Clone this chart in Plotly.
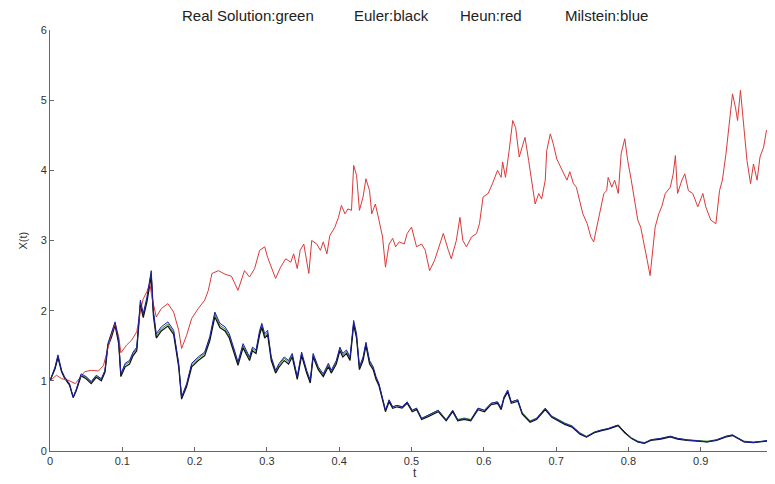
import plotly.graph_objects as go

# ---------------- data ----------------
t_sde = [0.000, 0.007, 0.011, 0.016, 0.020, 0.027, 0.032, 0.036, 0.043, 0.050,
         0.057, 0.064, 0.071, 0.076, 0.080, 0.085, 0.090, 0.095, 0.098, 0.104,
         0.110, 0.115, 0.120, 0.125, 0.129, 0.134, 0.140, 0.143, 0.147, 0.154,
         0.163, 0.171, 0.178, 0.182, 0.189, 0.196, 0.205, 0.214, 0.221, 0.228,
         0.235, 0.242, 0.248, 0.255, 0.260, 0.267, 0.271, 0.276, 0.280, 0.285,
         0.290, 0.293, 0.297, 0.301, 0.306, 0.312, 0.317, 0.324, 0.330, 0.335,
         0.342, 0.348, 0.355, 0.360, 0.364, 0.371, 0.378, 0.385, 0.389, 0.396,
         0.401, 0.405, 0.410, 0.415, 0.420, 0.424, 0.428, 0.433, 0.437, 0.442,
         0.447, 0.451, 0.455, 0.460, 0.464, 0.469, 0.474, 0.480, 0.487, 0.494,
         0.501, 0.507, 0.514, 0.523, 0.537, 0.548, 0.557, 0.564, 0.573, 0.582,
         0.592, 0.601, 0.610, 0.619, 0.624, 0.628, 0.633, 0.638, 0.647, 0.653,
         0.664, 0.673, 0.685, 0.694, 0.703, 0.712, 0.722, 0.733, 0.742, 0.753,
         0.763, 0.772, 0.780, 0.786, 0.795, 0.804, 0.813, 0.822, 0.831, 0.845,
         0.858, 0.868, 0.881, 0.895, 0.909, 0.922, 0.935, 0.944, 0.951, 0.960,
         0.973, 0.987, 1.000]

milstein = [1.00, 1.20, 1.37, 1.15, 1.06, 0.96, 0.77, 0.87, 1.10, 1.06,
            0.99, 1.08, 1.03, 1.15, 1.53, 1.67, 1.84, 1.58, 1.10, 1.25,
            1.29, 1.41, 1.48, 2.15, 1.96, 2.19, 2.57, 2.00, 1.67, 1.77,
            1.84, 1.72, 1.25, 0.77, 0.96, 1.25, 1.34, 1.41, 1.63, 1.98,
            1.82, 1.77, 1.67, 1.44, 1.27, 1.53, 1.44, 1.34, 1.48, 1.44,
            1.72, 1.82, 1.67, 1.72, 1.34, 1.15, 1.25, 1.34, 1.29, 1.39,
            1.06, 1.41, 1.15, 1.01, 1.39, 1.20, 1.10, 1.25, 1.15, 1.29,
            1.48, 1.39, 1.44, 1.34, 1.86, 1.67, 1.20, 1.34, 1.55, 1.29,
            1.20, 1.06, 0.96, 0.77, 0.58, 0.73, 0.63, 0.65, 0.63, 0.70,
            0.58, 0.61, 0.46, 0.51, 0.58, 0.44, 0.58, 0.44, 0.46, 0.44,
            0.61, 0.58, 0.68, 0.70, 0.61, 0.77, 0.87, 0.70, 0.73, 0.54,
            0.42, 0.46, 0.61, 0.49, 0.44, 0.39, 0.35, 0.25, 0.20, 0.27,
            0.30, 0.32, 0.35, 0.37, 0.27, 0.18, 0.13, 0.11, 0.16, 0.18,
            0.21, 0.18, 0.16, 0.15, 0.13, 0.16, 0.21, 0.23, 0.19, 0.13,
            0.12, 0.14, 0.16]

euler = [1.00, 1.17, 1.33, 1.13, 1.04, 0.94, 0.76, 0.85, 1.07, 1.03,
         0.96, 1.05, 1.00, 1.12, 1.49, 1.62, 1.79, 1.53, 1.06, 1.20,
         1.24, 1.36, 1.43, 2.08, 1.90, 2.12, 2.49, 1.93, 1.61, 1.71,
         1.78, 1.66, 1.20, 0.74, 0.92, 1.20, 1.29, 1.36, 1.57, 1.91,
         1.76, 1.71, 1.61, 1.39, 1.22, 1.47, 1.39, 1.29, 1.43, 1.39,
         1.66, 1.76, 1.61, 1.66, 1.29, 1.11, 1.20, 1.29, 1.24, 1.34,
         1.02, 1.36, 1.11, 0.97, 1.34, 1.16, 1.06, 1.20, 1.11, 1.24,
         1.43, 1.34, 1.39, 1.29, 1.80, 1.61, 1.16, 1.29, 1.50, 1.24,
         1.16, 1.02, 0.93, 0.74, 0.56, 0.70, 0.61, 0.63, 0.61, 0.68,
         0.56, 0.59, 0.45, 0.49, 0.56, 0.43, 0.56, 0.43, 0.45, 0.43,
         0.59, 0.56, 0.66, 0.68, 0.59, 0.75, 0.84, 0.68, 0.71, 0.53,
         0.41, 0.45, 0.59, 0.48, 0.43, 0.38, 0.34, 0.24, 0.20, 0.26,
         0.29, 0.31, 0.34, 0.36, 0.26, 0.18, 0.13, 0.11, 0.15, 0.17,
         0.20, 0.17, 0.15, 0.14, 0.13, 0.15, 0.20, 0.22, 0.18, 0.13,
         0.12, 0.13, 0.15]

real = [1.00, 1.18, 1.35, 1.14, 1.05, 0.95, 0.77, 0.86, 1.08, 1.05,
        0.98, 1.07, 1.02, 1.14, 1.51, 1.65, 1.82, 1.56, 1.08, 1.23,
        1.27, 1.39, 1.46, 2.12, 1.93, 2.16, 2.53, 1.97, 1.64, 1.74,
        1.81, 1.69, 1.23, 0.76, 0.94, 1.23, 1.32, 1.39, 1.60, 1.95,
        1.79, 1.74, 1.64, 1.42, 1.25, 1.50, 1.42, 1.32, 1.46, 1.42,
        1.69, 1.79, 1.64, 1.69, 1.32, 1.13, 1.23, 1.32, 1.27, 1.37,
        1.04, 1.39, 1.13, 0.99, 1.37, 1.18, 1.08, 1.23, 1.13, 1.27,
        1.46, 1.37, 1.42, 1.32, 1.83, 1.64, 1.18, 1.32, 1.53, 1.27,
        1.18, 1.04, 0.95, 0.76, 0.58, 0.72, 0.63, 0.65, 0.63, 0.70,
        0.58, 0.61, 0.47, 0.51, 0.58, 0.45, 0.58, 0.45, 0.47, 0.45,
        0.61, 0.58, 0.68, 0.70, 0.61, 0.77, 0.86, 0.70, 0.73, 0.55,
        0.43, 0.47, 0.61, 0.50, 0.45, 0.40, 0.36, 0.26, 0.21, 0.27,
        0.30, 0.32, 0.35, 0.37, 0.27, 0.19, 0.14, 0.12, 0.16, 0.18,
        0.21, 0.18, 0.16, 0.15, 0.14, 0.16, 0.21, 0.23, 0.19, 0.14,
        0.13, 0.14, 0.16]

t_heun = [0.000, 0.009, 0.016, 0.025, 0.035, 0.039, 0.048, 0.057, 0.067, 0.074,
          0.080, 0.085, 0.090, 0.095, 0.098, 0.106, 0.113, 0.120, 0.125, 0.129,
          0.134, 0.138, 0.141, 0.147, 0.154, 0.163, 0.171, 0.178, 0.182, 0.189,
          0.196, 0.205, 0.214, 0.219, 0.224, 0.233, 0.242, 0.251, 0.260, 0.265,
          0.269, 0.276, 0.283, 0.290, 0.297, 0.301, 0.308, 0.312, 0.319, 0.326,
          0.333, 0.337, 0.342, 0.346, 0.351, 0.355, 0.358, 0.362, 0.369, 0.374,
          0.378, 0.383, 0.387, 0.394, 0.399, 0.403, 0.408, 0.412, 0.417, 0.420,
          0.424, 0.428, 0.433, 0.437, 0.442, 0.445, 0.450, 0.455, 0.460, 0.464,
          0.469, 0.474, 0.478, 0.483, 0.490, 0.494, 0.500, 0.507, 0.514, 0.519,
          0.525, 0.532, 0.539, 0.544, 0.551, 0.555, 0.562, 0.567, 0.571, 0.576,
          0.583, 0.590, 0.594, 0.599, 0.606, 0.612, 0.619, 0.624, 0.626, 0.630,
          0.635, 0.640, 0.644, 0.649, 0.653, 0.657, 0.662, 0.667, 0.671, 0.676,
          0.680, 0.685, 0.687, 0.692, 0.696, 0.701, 0.708, 0.715, 0.719, 0.724,
          0.728, 0.733, 0.737, 0.743, 0.748, 0.752, 0.757, 0.761, 0.766, 0.770,
          0.772, 0.777, 0.781, 0.786, 0.790, 0.795, 0.799, 0.804, 0.808, 0.813,
          0.817, 0.822, 0.826, 0.830, 0.833, 0.837, 0.842, 0.846, 0.851, 0.858,
          0.862, 0.865, 0.868, 0.874, 0.878, 0.883, 0.889, 0.896, 0.903, 0.907,
          0.914, 0.921, 0.926, 0.930, 0.935, 0.939, 0.944, 0.948, 0.951, 0.955,
          0.960, 0.964, 0.969, 0.973, 0.978, 0.982, 0.987, 0.991, 0.998]

heun = [1.00, 1.08, 1.03, 1.01, 0.96, 1.01, 1.13, 1.15, 1.14, 1.22,
        1.48, 1.67, 1.82, 1.63, 1.40, 1.51, 1.58, 1.70, 2.00, 2.17,
        2.27, 2.39, 2.19, 1.91, 2.03, 2.10, 1.98, 1.72, 1.46, 1.65,
        1.89, 2.03, 2.15, 2.29, 2.53, 2.57, 2.52, 2.49, 2.29, 2.43,
        2.57, 2.48, 2.60, 2.86, 2.91, 2.76, 2.57, 2.46, 2.62, 2.74,
        2.69, 2.81, 2.60, 2.86, 2.95, 2.72, 2.53, 3.00, 2.95, 2.86,
        2.98, 2.81, 3.07, 3.19, 3.33, 3.50, 3.38, 3.45, 3.43, 4.07,
        3.93, 3.43, 3.62, 3.88, 3.71, 3.38, 3.52, 3.29, 3.05, 2.62,
        2.95, 3.03, 2.91, 2.98, 2.95, 3.10, 3.19, 2.91, 2.95, 2.86,
        2.57, 2.72, 2.95, 3.10, 2.86, 2.74, 3.00, 3.33, 3.00, 2.91,
        3.05, 3.10, 3.24, 3.62, 3.67, 3.81, 4.00, 3.90, 4.12, 3.90,
        4.28, 4.71, 4.61, 4.19, 4.33, 4.47, 4.14, 3.81, 3.52, 3.67,
        3.59, 3.86, 4.28, 4.52, 4.38, 4.16, 4.00, 3.86, 3.98, 3.81,
        3.76, 3.57, 3.38, 3.24, 3.05, 2.98, 3.24, 3.43, 3.67, 3.71,
        3.90, 3.76, 3.86, 3.67, 4.24, 4.45, 4.14, 3.86, 3.62, 3.29,
        3.19, 2.95, 2.72, 2.50, 2.81, 3.19, 3.38, 3.48, 3.67, 3.76,
        3.95, 4.21, 3.67, 3.86, 3.95, 3.71, 3.67, 3.48, 3.67, 3.48,
        3.29, 3.24, 3.71, 3.86, 4.24, 4.61, 5.09, 4.90, 4.71, 5.14,
        4.52, 4.14, 3.81, 4.09, 3.86, 4.19, 4.33, 4.57, 4.47]

x_ticks = [0, 0.1, 0.2, 0.3, 0.4, 0.5, 0.6, 0.7, 0.8, 0.9, 1]
x_tick_text = ["0", "0.1", "0.2", "0.3", "0.4", "0.5", "0.6", "0.7", "0.8", "0.9", "1"]
y_ticks = [0, 1, 2, 3, 4, 5, 6]
title_parts = ["Real Solution:green", "Euler:black", "Heun:red", "Milstein:blue"]

# ---------------- figure ----------------
# The page body has an 8px default margin, so the figure is sized to fill the rest
FONT = "Liberation Sans, Arial, sans-serif"
fig = go.Figure()
fig.add_trace(go.Scatter(x=t_sde, y=real, mode="lines",
                         line=dict(color="#2e8b2e", width=1), name="Real Solution"))
fig.add_trace(go.Scatter(x=t_sde, y=euler, mode="lines",
                         line=dict(color="#111111", width=1.2), name="Euler"))
fig.add_trace(go.Scatter(x=t_heun, y=heun, mode="lines",
                         line=dict(color="#d93a3a", width=1), name="Heun"))
fig.add_trace(go.Scatter(x=t_sde, y=milstein, mode="lines",
                         line=dict(color="#1c1ca8", width=1), name="Milstein"))

axis_common = dict(showgrid=False, zeroline=False, showline=True, linecolor="#666666",
                   linewidth=1, ticks="inside", ticklen=4, tickcolor="#666666",
                   tickfont=dict(family=FONT, size=11, color="#333333"), mirror=False,
                   automargin=False)
fig.update_xaxes(range=[0, 1.0], tickvals=x_ticks, ticktext=x_tick_text, **axis_common)
fig.update_yaxes(range=[0, 6], tickvals=y_ticks, **axis_common)

PW, PH = 723, 421  # plot-area size in pixels
title_x_px = [248, 391, 491, 606]
for txt, px in zip(title_parts, title_x_px):
    fig.add_annotation(text=txt, x=(px - 50) / PW, y=1.0 + 15 / PH,
                       xref="paper", yref="paper", showarrow=False,
                       xanchor="center", yanchor="middle",
                       font=dict(family=FONT, size=15, color="#222222"))

fig.add_annotation(text="X(t)", x=-28 / PW, y=0.50, xref="paper", yref="paper",
                   showarrow=False, textangle=-90, xanchor="center", yanchor="middle",
                   font=dict(family=FONT, size=11, color="#333333"))
fig.add_annotation(text="t", x=(415 - 50) / PW, y=-22 / PH, xref="paper", yref="paper",
                   showarrow=False, xanchor="center", yanchor="middle",
                   font=dict(family=FONT, size=12, color="#333333"))

fig.update_layout(width=767, height=476, showlegend=False,
                  paper_bgcolor="white", plot_bgcolor="white",
                  margin=dict(l=42, r=2, t=22, b=33))

fig.write_html("out.html")
